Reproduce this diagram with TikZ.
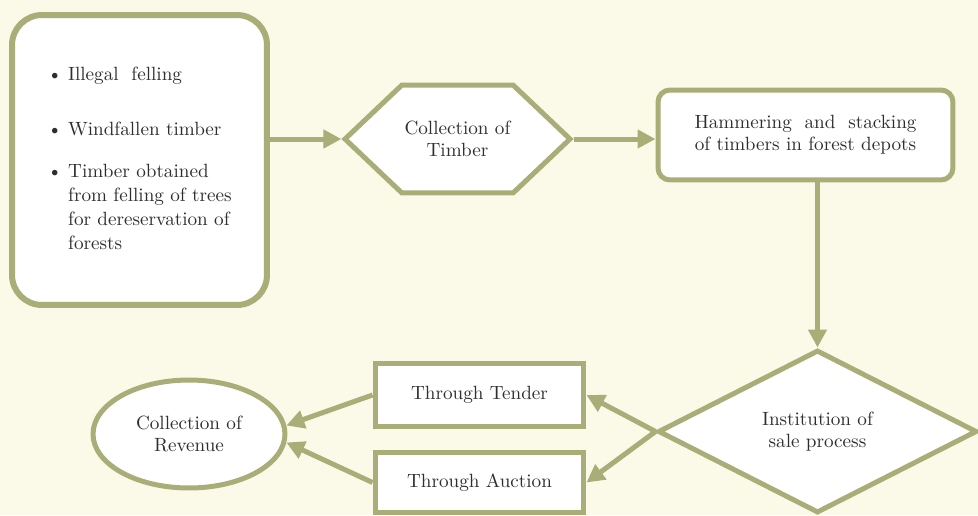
\documentclass[tikz,border=0pt]{standalone}
\usepackage{fontspec}
\usetikzlibrary{arrows.meta,shapes.geometric,shapes.symbols}
\definecolor{framegreen}{HTML}{A9AE78}
\definecolor{paper}{HTML}{FBFAE8}
\definecolor{ink}{HTML}{2E2E2E}
\tikzset{
	every node/.style={text=ink, font=\fontsize{10.9}{12.4}\selectfont},
	shapebox/.style={draw=framegreen, line width=0.1cm, fill=white, align=center, inner sep=0pt},
	flow/.style={draw=framegreen, line width=0.1cm, -{Triangle[length=0.36cm,width=0.36cm]}}
}

\begin{document}
\begin{tikzpicture}[x=0.02cm, y=-0.02cm]
			%%%%% START %%%%%
			\fill[paper] (0, 0) rectangle (978, 515);
			\useasboundingbox (0, 0) rectangle (978, 515);
			
			\node[shapebox, rounded corners=0.6cm, line width=0.12cm, minimum width=5.1cm, minimum height=5.8cm] (src) at (139.5, 160)
				{\fontsize{10.9}{13.65}\selectfont
				\begin{tabular}{@{}l@{\hspace{0.12cm}}l@{}}
					\textbullet & Illegal\ \ felling\\[0.62cm]
					\textbullet & Windfallen timber\\[0.36cm]
					\textbullet & Timber obtained\\
					& from felling of trees\\
					& for dereservation of\\
					& forests
				\end{tabular}};
			
			\node[shapebox, signal, signal to=west and east, signal pointer angle=87, minimum width=4.5cm, minimum height=2.16cm] (coll) at (457.5, 139) {Collection of\\Timber};
			\node[shapebox, rounded corners=0.24cm, minimum width=5.9cm, minimum height=1.8cm] (stack) at (805.5, 135) {Hammering\ \ and\ \ stacking\\of timbers in forest depots};
			
			\node[shapebox, diamond, minimum width=6.38cm, minimum height=3.26cm] (sale) at (817.5, 431.5) {Institution of\\sale process};
			\node[shapebox, minimum width=4.18cm, minimum height=1.26cm] (tender) at (479.5, 395) {Through Tender};
			\node[shapebox, minimum width=4.18cm, minimum height=1.2cm] (auction) at (479.5, 482.5) {Through Auction};
			\node[shapebox, ellipse, minimum width=3.84cm, minimum height=2.16cm] (revenue) at (189, 434) {Collection of\\Revenue};
			
			\draw[flow] (src.east |- coll.west) -- (coll.west);
			\draw[flow] (coll.east) -- (coll.east -| stack.west);
			\draw[flow] (stack.south -| sale.north) -- (sale.north);
			
			\draw[flow] (sale.west) -- (tender.east);
			\draw[flow] (sale.west) -- (auction.east);
			\draw[flow] (tender.west) -- (revenue.5);
			\draw[flow] (auction.west) -- (revenue.-5);
			%%%%% END %%%%%
\end{tikzpicture}
\end{document}
